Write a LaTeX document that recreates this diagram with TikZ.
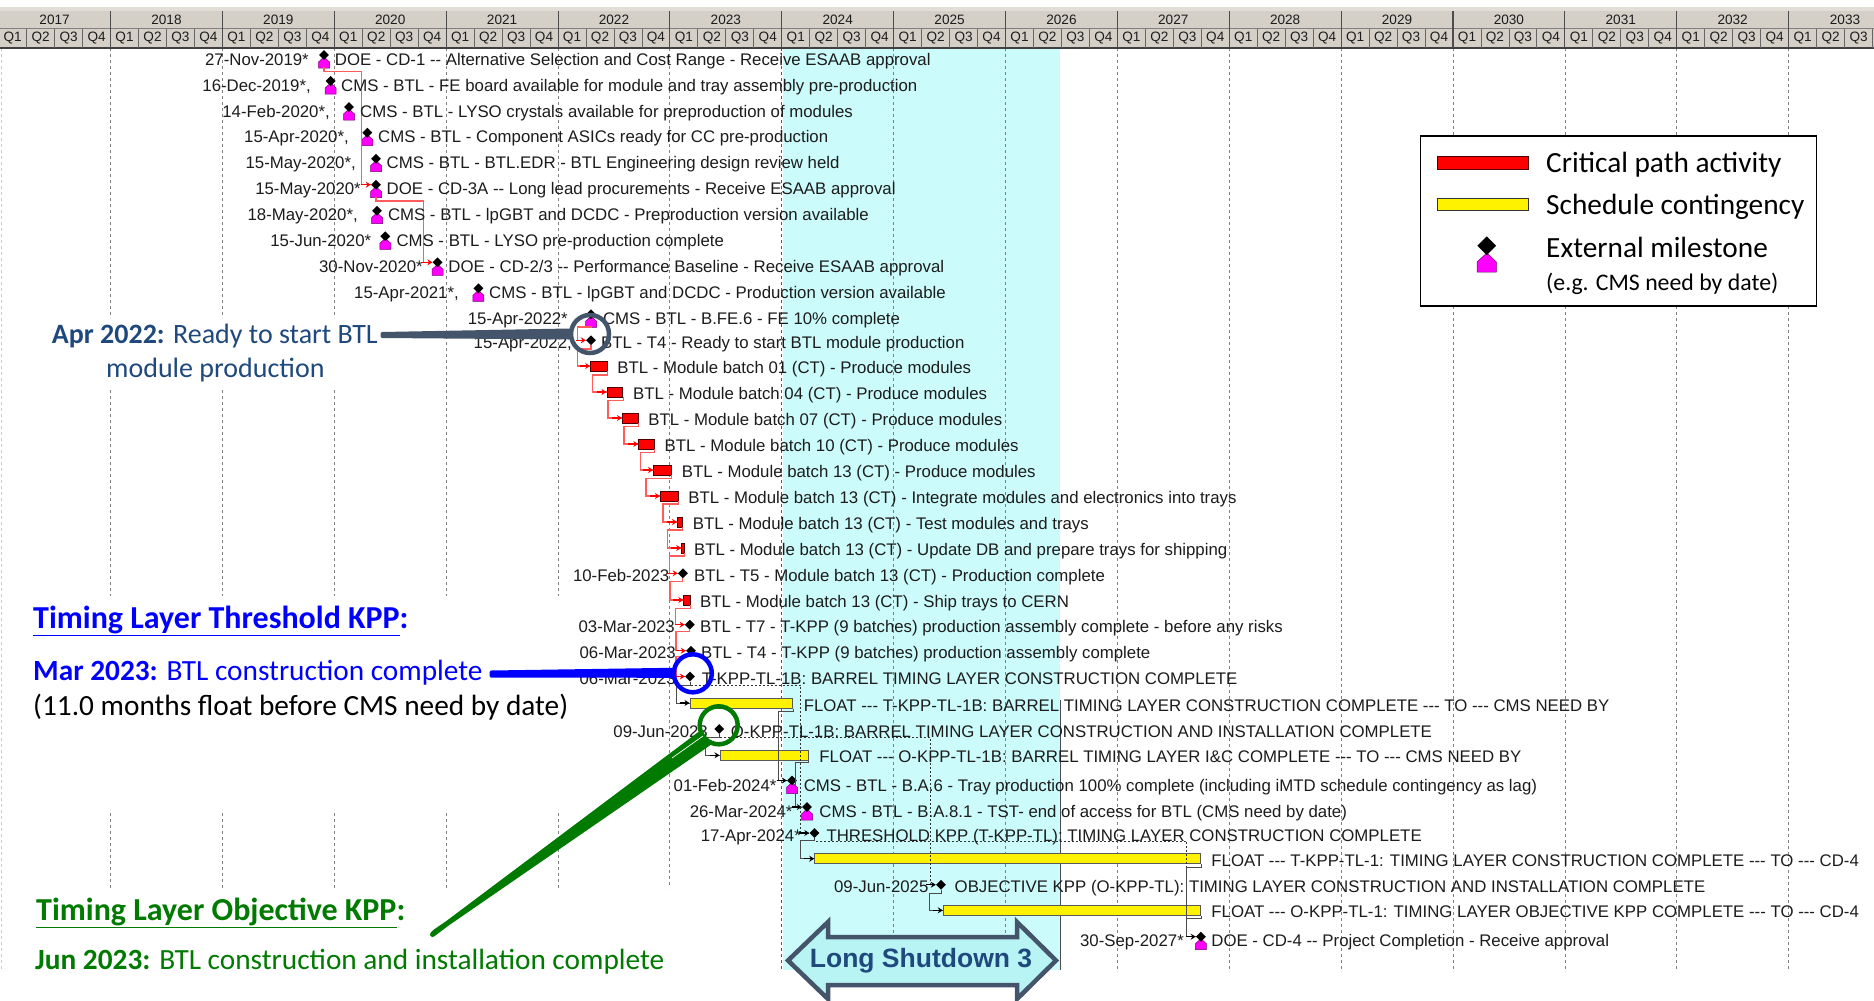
\documentclass[tikz,border=0pt]{standalone}
\usepackage{fontspec}
\setmainfont[Ligatures=TeXOff]{Liberation Sans}
\newfontfamily\calfont{Carlito}
\usetikzlibrary{arrows.meta,shapes.geometric}
\definecolor{gridc}{HTML}{808080}
\definecolor{hdrc}{HTML}{D4D0C8}
\definecolor{bandc}{HTML}{CCFBFB}
\definecolor{slatec}{HTML}{44546A}
\definecolor{navyc}{HTML}{1F497D}
\definecolor{greenc}{HTML}{007A00}
\definecolor{critc}{HTML}{FF5C5C}
\definecolor{txtc}{HTML}{1C1C1C}
\definecolor{mgc}{RGB}{255,0,255}
\definecolor{mgd}{RGB}{120,0,120}
\definecolor{arrowf}{HTML}{B8F4F4}
\tikzset{
  rowtxt/.style={anchor=west,inner sep=0pt,text height=12pt,text depth=0pt,text=txtc,font=\fontsize{16.8}{20}\selectfont},
  datetxt/.style={rowtxt,anchor=east},
  gridl/.style={draw=gridc,line width=0.9pt,dash pattern=on 3pt off 3pt},
  hdrtxt/.style={inner sep=0pt,text=txtc,font=\fontsize{13.6}{15}\selectfont},
  barred/.style={draw=black!70!red,fill=red,line width=0.9pt,inner sep=0pt,minimum height=10pt},
  baryel/.style={draw=black!65,fill=yellow,line width=1pt,inner sep=0pt,minimum height=10pt},
  msdia/.style={diamond,fill=black,inner sep=0pt,minimum width=10pt,minimum height=10pt},
  mshouse/.style={fill=mgc,draw=mgd,line width=0.5pt},
  critl/.style={draw=critc,line width=1.1pt},
  crittip/.style={draw=red,line width=1.4pt,-{Stealth[length=5pt,width=6pt]}},
  floatl/.style={draw=black!70,line width=1pt},
  floattip/.style={draw=black,line width=1.2pt,-{Stealth[length=5pt,width=6pt]}},
  dotl/.style={draw=black!80,line width=1pt,dash pattern=on 2pt off 2pt},
  ann/.style={anchor=base west,inner sep=0pt},
  callc/.style={circle,draw=#1,line width=4.5pt,minimum size=38pt,inner sep=0pt},
  calp/.style={fill=#1,draw=#1,line width=3pt,line join=round},
  legtxt/.style={anchor=base west,inner sep=0pt,text=black,font=\calfont\fontsize{29.3}{34}\selectfont},
}
\newcommand{\RT}[4]{\node[rowtxt] (t#1) at (#2,#3) {#4};}
\newcommand{\DT}[4]{\node[datetxt] (d#1) at (#2,#3) {#4};}
% milestone with pink house
\newcommand{\MP}[3]{%
  \fill[mshouse] (#2-5.5,#3+9) -- (#2-5.5,#3+3) -- (#2,#3-2) -- (#2+5.5,#3+3) -- (#2+5.5,#3+9) -- cycle;
  \node[msdia] (m#1) at (#2,#3-4) {};
  \coordinate (m#1b) at (#2,#3+8);}
% plain milestone
\newcommand{\MB}[3]{%
  \node[msdia] (m#1) at (#2,#3-2) {};
  \coordinate (m#1b) at (#2,#3+3);}
\newcommand{\BR}[5]{\node[#1,minimum width={(#4-#3)*1pt}] (b#2) at ({(#3+#4)/2},#5) {};}
\newcommand{\CC}[4]{\draw[critl] (#1) |- (#3,#2) |- (#4.west); \draw[crittip] ([xshift=-10pt]#4.west) -- (#4.west);}
\newcommand{\FC}[4]{\draw[floatl] (#1) |- (#3,#2) |- (#4.west); \draw[floattip] ([xshift=-10pt]#4.west) -- (#4.west);}
\newcommand{\DC}[4]{\draw[dotl] (#1) |- (#3,#2) |- (#4.west);}
\begin{document}
\begin{tikzpicture}[x=1pt,y=-1pt]
\useasboundingbox (0,0) rectangle (1874,1001);
\fill[white] (0,0) rectangle (1874,1001);
% LS3 band
\fill[bandc] (782.6,48) rectangle (1060,970);
\draw[black!70,line width=1pt] (1060,700) -- (1060,970);
% grid
\draw[gridc!40,line width=0.9pt,dash pattern=on 3pt off 3pt] (1,48) -- (1,970);
\foreach \g in {110.6,222.5,334.3,446.2,558.1}{
  \draw[gridl] (\g,48) -- (\g,596);
  \draw[gridl] (\g,813) -- (\g,888);}
\fill[white] (20,315) rectangle (380,387);
\draw[gridl] (669.9,48) -- (669.9,888);
\draw[gridl,draw=black!65] (781.8,48) -- (781.8,970);
\foreach \g in {893.7,1005.6,1117.4,1229.3,1341.2,1453,1565,1676.9,1788.7}{
  \draw[gridl] (\g,48) -- (\g,970);}
% header
\fill[hdrc!70!white] (0,7) rectangle (1874,11);
\fill[hdrc] (0,11) rectangle (1874,48);
\draw[black!50,line width=0.8pt] (0,28.5) -- (1874,28.5);
\draw[black!75,line width=1.8pt] (0,48) -- (1874,48);
\foreach \yr [count=\i from 0] in {2017,...,2032}{
  \pgfmathsetmacro{\xa}{-1.3+111.87*\i}
  \node[hdrtxt] (y\yr) at (\xa+55.9,19.5) {\yr};
  \draw[black!70,line width=1.1pt] (\xa,11) -- (\xa,48);
  \foreach \q in {1,2,3,4}{
    \node[hdrtxt] (q\yr\q) at (\xa+27.97*\q-14,38.5) {Q\q};
    \ifnum\q>1 \draw[black!60,line width=0.9pt] (\xa+27.97*\q-27.97,29) -- (\xa+27.97*\q-27.97,48);\fi
  }
}
\node[hdrtxt] (y2033) at (1845,19.5) {2033};
\draw[black!70,line width=1.1pt] (1788.7,11) -- (1788.7,48);
\foreach \q in {1,2,3}{
  \node[hdrtxt] (q2033\q) at (1788.7+27.97*\q-14,38.5) {Q\q};
  \draw[black!60,line width=0.9pt] (1788.7+27.97*\q,29) -- (1788.7+27.97*\q,48);
}
% bars
\BR{barred}{13}{590.6}{607}{366}
\BR{barred}{14}{607}{622.9}{392}
\BR{barred}{15}{622.4}{638.4}{418}
\BR{barred}{16}{638.8}{654.3}{444}
\BR{barred}{17}{653.5}{671.4}{470}
\BR{barred}{18}{660.4}{678.4}{496}
\BR{barred}{19}{677.5}{682.4}{522}
\BR{barred}{20}{681.6}{684}{548}
\BR{barred}{22}{683.7}{690.2}{600}
\BR{baryel}{26}{690}{792.5}{703}
\BR{baryel}{28}{720}{808.4}{755.3}
\BR{baryel}{32}{814.7}{1200.9}{858.7}
\BR{baryel}{34}{943.3}{1200.9}{910.3}
% milestones
\MP{1}{324}{59}
\MP{2}{330.6}{85}
\MP{3}{349}{111}
\MP{4}{367.3}{136.7}
\MP{5}{376}{162.7}
\MP{6}{376}{188.7}
\MP{7}{377}{214.7}
\MP{8}{385.3}{240.3}
\MP{9}{437.6}{266.3}
\MP{10}{478.4}{292.3}
\MP{11}{591}{318.3}
\MB{12}{591}{342.3}
\MB{21}{682.9}{575.3}
\MB{23}{689.8}{626.7}
\MB{24}{691}{652.7}
\MB{25}{690}{678.5}
\MB{27}{719.3}{731}
\MP{29}{792}{784.5}
\MP{30}{807}{811}
\MB{31}{814.5}{835}
\MB{33}{941}{886.7}
\MP{35}{1200.9}{940.7}
% critical connectors
\CC{m1b}{71.7}{361.6}{m6}
\CC{m6b}{201}{423.7}{m9}
\CC{m11b}{327}{577.6}{m12}
\CC{m12b}{349}{577.6}{b13}
\CC{b13.south east}{375}{592.7}{b14}
\CC{b14.south east}{400.7}{608}{b15}
\CC{b15.south east}{426.7}{624}{b16}
\CC{b16.south east}{452.3}{640.8}{b17}
\CC{b17.south east}{478.3}{646}{b18}
\CC{b18.south east}{504}{663}{b19}
\CC{b19.south east}{530}{667.3}{b20}
\CC{b20.south east}{556}{669.4}{m21}
\CC{m21b}{581.7}{670}{b22}
\CC{b22.south east}{608.3}{675.5}{m23}
\CC{m23b}{631.7}{676}{m24}
\CC{m24b}{656.7}{676}{m25}
% float connectors
\FC{m25b}{685}{676}{b26}
\FC{b26.south east}{711}{778.3}{m29}
\FC{m27b}{737.3}{705}{b28}
\FC{b28.south east}{762.7}{795}{m30}
\FC{m31b}{840.5}{800.7}{b32}
\FC{b32.south east}{867.3}{1186.6}{m35}
\FC{m33b}{893.3}{929}{b34}
\draw[floatl] (b34.south east) |- (1186.6,918.3);
\DC{m25b}{685}{800.7}{m31}
\draw[floattip] ([xshift=-10pt]m31.west) -- (m31.west);
\DC{m27b}{737.3}{930}{m33}
\draw[floattip] ([xshift=-10pt]m33.west) -- (m33.west);
\draw[dotl] (m31b) |- (1186.6,841) -- (1186.6,867);
% row texts
\RT{1}{334.7}{59}{DOE - CD-1 -- Alternative Selection and Cost Range - Receive ESAAB approval}
\DT{1}{309}{59}{27-Nov-2019*}
\RT{2}{341}{85}{CMS - BTL - FE board available for module and tray assembly pre-production}
\DT{2}{311}{85}{16-Dec-2019*,}
\RT{3}{360}{111}{CMS - BTL - LYSO crystals available for preproduction of modules}
\DT{3}{330}{111}{14-Feb-2020*,}
\RT{4}{378}{136.7}{CMS - BTL - Component ASICs ready for CC pre-production}
\DT{4}{349}{136.7}{15-Apr-2020*,}
\RT{5}{386.5}{162.7}{CMS - BTL - BTL.EDR - BTL Engineering design review held}
\DT{5}{356}{162.7}{15-May-2020*,}
\RT{6}{386.5}{188.7}{DOE - CD-3A -- Long lead procurements - Receive ESAAB approval}
\DT{6}{361}{188.7}{15-May-2020*}
\RT{7}{387.8}{214.7}{CMS - BTL - lpGBT and DCDC - Preproduction version available}
\DT{7}{358}{214.7}{18-May-2020*,}
\RT{8}{396.3}{240.3}{CMS - BTL - LYSO pre-production complete}
\DT{8}{371.4}{240.3}{15-Jun-2020*}
\RT{9}{448.2}{266.3}{DOE - CD-2/3 -- Performance Baseline - Receive ESAAB approval}
\DT{9}{423}{266.3}{30-Nov-2020*}
\RT{10}{489}{292.3}{CMS - BTL - lpGBT and DCDC - Production version available}
\DT{10}{459}{292.3}{15-Apr-2021*,}
\RT{11}{602.9}{318.3}{CMS - BTL - B.FE.6 - FE 10\% complete}
\DT{11}{568}{318.3}{15-Apr-2022*}
\RT{12}{601}{342.3}{BTL - T4 - Ready to start BTL module production}
\DT{12}{572}{342.3}{15-Apr-2022,}
\RT{13}{617.1}{367.7}{BTL - Module batch 01 (CT) - Produce modules}
\RT{14}{633}{393.9}{BTL - Module batch 04 (CT) - Produce modules}
\RT{15}{648.2}{419.9}{BTL - Module batch 07 (CT) - Produce modules}
\RT{16}{664.5}{445.7}{BTL - Module batch 10 (CT) - Produce modules}
\RT{17}{681.6}{471.7}{BTL - Module batch 13 (CT) - Produce modules}
\RT{18}{688.2}{497.7}{BTL - Module batch 13 (CT) - Integrate modules and electronics into trays}
\RT{19}{692.7}{523.3}{BTL - Module batch 13 (CT) - Test modules and trays}
\RT{20}{693.9}{549.3}{BTL - Module batch 13 (CT) - Update DB and prepare trays for shipping}
\RT{21}{693.9}{575.3}{BTL - T5 - Module batch 13 (CT) - Production complete}
\DT{21}{669.4}{575.3}{10-Feb-2023}
\RT{22}{700}{601.3}{BTL - Module batch 13 (CT) - Ship trays to CERN}
\RT{23}{700}{626.7}{BTL - T7 - T-KPP (9 batches) production assembly complete - before any risks}
\DT{23}{675}{626.7}{03-Mar-2023}
\RT{24}{701}{652.7}{BTL - T4 - T-KPP (9 batches) production assembly complete}
\DT{24}{676}{652.7}{06-Mar-2023}
\RT{25}{701.6}{678.5}{T-KPP-TL-1B: BARREL TIMING LAYER CONSTRUCTION COMPLETE}
\DT{25}{676}{678.5}{06-Mar-2023}
\RT{26}{803.6}{705}{FLOAT --- T-KPP-TL-1B: BARREL TIMING LAYER CONSTRUCTION COMPLETE --- TO --- CMS NEED BY}
\RT{27}{730.7}{731}{O-KPP-TL-1B: BARREL TIMING LAYER CONSTRUCTION AND INSTALLATION COMPLETE}
\DT{27}{708}{731}{09-Jun-2023}
\RT{28}{819.2}{756.7}{FLOAT --- O-KPP-TL-1B: BARREL TIMING LAYER I\&C COMPLETE --- TO --- CMS NEED BY}
\RT{29}{803.6}{785}{CMS - BTL - B.A.6 - Tray production 100\% complete (including iMTD schedule contingency as lag)}
\DT{29}{776.6}{785}{01-Feb-2024*}
\RT{30}{819.2}{811}{CMS - BTL - B.A.8.1 - TST- end of access for BTL (CMS need by date)}
\DT{30}{792.7}{811}{26-Mar-2024*}
\RT{31}{826.3}{835}{THRESHOLD KPP (T-KPP-TL): TIMING LAYER CONSTRUCTION COMPLETE}
\DT{31}{801}{835}{17-Apr-2024*}
\RT{32}{1211.2}{860}{FLOAT --- T-KPP-TL-1: TIMING LAYER CONSTRUCTION COMPLETE --- TO --- CD-4}
\RT{33}{954.5}{886.7}{OBJECTIVE KPP (O-KPP-TL): TIMING LAYER CONSTRUCTION AND INSTALLATION COMPLETE}
\DT{33}{928.6}{886.7}{09-Jun-2025}
\RT{34}{1211.2}{911.7}{FLOAT --- O-KPP-TL-1: TIMING LAYER OBJECTIVE KPP COMPLETE --- TO --- CD-4}
\RT{35}{1211.2}{940.7}{DOE - CD-4 -- Project Completion - Receive approval}
\DT{35}{1184}{940.7}{30-Sep-2027*}
% callouts
\node[callc=slatec] (cn) at (590,334) {};
\coordinate (cne) at (382,335);
\path[calp=slatec] ([yshift=1.5pt]cne) -- ([yshift=4pt]cn.west) -- ([yshift=-4pt]cn.west) -- ([yshift=-1.5pt]cne) -- cycle;
\node[callc=blue] (cb) at (692.8,673.3) {};
\coordinate (cbe) at (491,674);
\path[calp=blue] ([yshift=2pt]cbe) -- ([yshift=4pt]cb.west) -- ([yshift=-3pt]cb.west) -- ([yshift=-2pt]cbe) -- cycle;
\node[callc=greenc] (cg) at (718.7,725.3) {};
\coordinate (cge) at (434,933);
\path[fill=greenc,draw=greenc,line width=5pt,line join=round] ([xshift=-1.5pt,yshift=-1.5pt]cge) -- (cg.205) -- (cg.240) -- ([xshift=1.5pt,yshift=1.5pt]cge) -- cycle;
\draw[white,line width=0.7pt] (703,736) -- (672,758);
% annotation texts
\node[ann,text=navyc,font=\calfont\fontsize{28}{34}\selectfont] (a1) at (51.7,343) {\textbf{Apr 2022:} Ready to start BTL};
\node[ann,text=navyc,font=\calfont\fontsize{28}{34}\selectfont] (a2) at (106,377) {module production};
\node[ann,text=blue,font=\calfont\bfseries\fontsize{32}{38}\selectfont] (a3) at (33,628) {\underline{Timing Layer Threshold KPP}:};
\node[ann,text=blue,font=\calfont\fontsize{29.3}{34}\selectfont] (a4) at (33,680.5) {\textbf{Mar 2023:} BTL construction complete};
\node[ann,text=black,font=\calfont\fontsize{29.3}{34}\selectfont] (a5) at (33,715) {(11.0 months float before CMS need by date)};
\node[ann,text=greenc,font=\calfont\bfseries\fontsize{32}{38}\selectfont] (a6) at (36,920) {\underline{Timing Layer Objective KPP}:};
\node[ann,text=greenc,font=\calfont\fontsize{29.3}{34}\selectfont] (a7) at (35,969) {\textbf{Jun 2023:} BTL construction and installation complete};
% LS3 arrow
\filldraw[draw=slatec,fill=arrowf,line width=4.5pt,line join=miter]
  (788,960.5) -- (828,922) -- (828,937) -- (1017,937) -- (1017,922) -- (1056,960.5)
  -- (1017,999) -- (1017,985) -- (828,985) -- (828,999) -- cycle;
\node[inner sep=0pt,text=navyc,font=\bfseries\fontsize{26.5}{30}\selectfont] (ls3) at (921,961) {Long Shutdown 3};
% legend
\node[draw=black,fill=white,line width=1.4pt,inner sep=0pt,minimum width=396.4pt,minimum height=170pt] (lg) at (1618.5,221) {};
\node[barred,minimum width=91pt,minimum height=12.6pt] (lr) at (1482.8,163) {};
\node[baryel,draw=black!80,minimum width=91pt,minimum height=12.6pt] (ly) at (1482.8,204.3) {};
\fill[mshouse] (1477,272) -- (1477,262) -- (1486.7,253) -- (1496.4,262) -- (1496.4,272) -- cycle;
\node[msdia,minimum width=19pt,minimum height=19pt] (lm) at (1486.7,245.7) {};
\node[legtxt] (l1) at (1546,172.5) {Critical path activity};
\node[legtxt] (l2) at (1546,214.5) {Schedule contingency};
\node[legtxt] (l3) at (1546,257.5) {External milestone};
\node[legtxt,font=\calfont\fontsize{23.8}{28}\selectfont] (l4) at (1546,290) {(e.g. CMS need by date)};
\end{tikzpicture}
\end{document}
